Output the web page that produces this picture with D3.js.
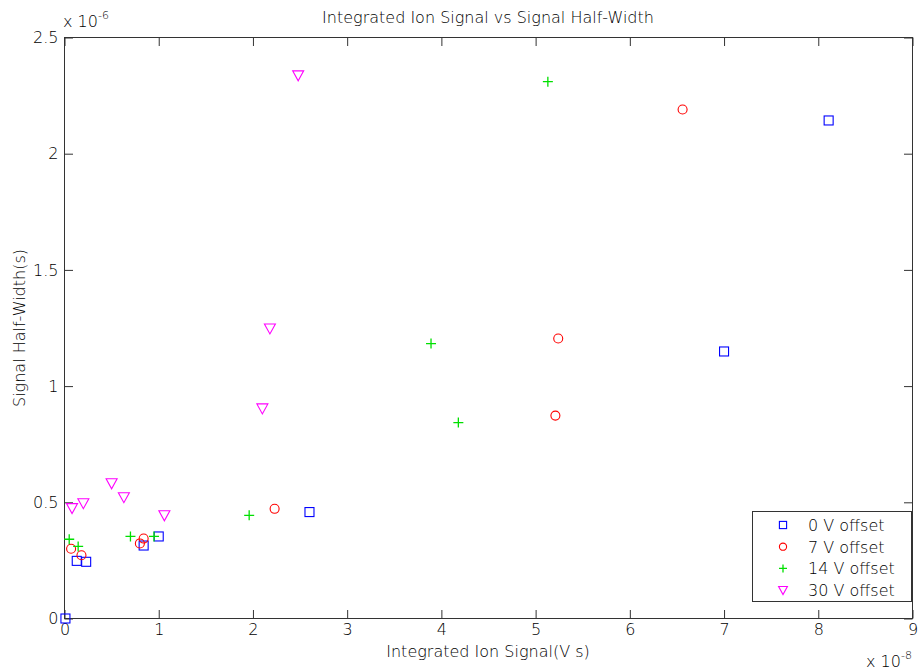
<!DOCTYPE html>
<html><head><meta charset="utf-8">
<script src="https://cdn.jsdelivr.net/npm/d3@7/dist/d3.min.js"></script>
<style>body{margin:0;background:#fff}svg{display:block}text{font-family:"DejaVu Sans",sans-serif;font-weight:200;fill:#000}</style>
</head><body><svg id="c" width="919" height="671"></svg>
<script>
// x in units of 1e-8 V s, y in units of 1e-6 s
const xTicks = [0,1,2,3,4,5,6,7,8,9];
const yTicks = [0,0.5,1,1.5,2,2.5];
const yTickLabels = ["0","0.5","1","1.5","2","2.5"];
const seriesNames = ["0 V offset","7 V offset","14 V offset","30 V offset"];
const s0x = [0.01,0.13,0.23,0.84,1.00,2.60,7.00,8.11];
const s0y = [0.00,0.248,0.244,0.314,0.353,0.458,1.149,2.143];
const s7x = [0.07,0.18,0.80,0.84,2.23,5.21,5.24,6.56];
const s7y = [0.300,0.272,0.323,0.344,0.472,0.873,1.205,2.190];
const s14x = [0.05,0.145,0.70,0.95,1.96,3.89,4.18,5.13];
const s14y = [0.341,0.310,0.353,0.353,0.444,1.183,0.843,2.310];
const s30x = [0.08,0.20,0.50,0.63,1.06,2.10,2.18,2.48];
const s30y = [0.475,0.496,0.582,0.522,0.444,0.904,1.248,2.337];

const svg = d3.select("#c");
const L=64.5, R=912.5, T=37.5, B=618.5;
const x = d3.scaleLinear().domain([0,9]).range([L,R]);
const y = d3.scaleLinear().domain([0,2.5]).range([B,T]);
const axisColor="#333", tl=8.5;

svg.append("rect").attr("x",L).attr("y",T).attr("width",R-L).attr("height",B-T)
  .attr("fill","none").attr("stroke",axisColor).attr("stroke-width",1);

const fs=16;
const gx = svg.append("g").attr("transform",`translate(0,${B})`)
  .call(d3.axisBottom(x).tickValues(xTicks).tickFormat(d3.format("d")).tickSizeInner(-tl).tickSizeOuter(0).tickPadding(5));
const gxt = svg.append("g").attr("transform",`translate(0,${T})`)
  .call(d3.axisTop(x).tickValues(xTicks).tickFormat("").tickSizeInner(-tl).tickSizeOuter(0));
const gy = svg.append("g").attr("transform",`translate(${L},0)`)
  .call(d3.axisLeft(y).tickValues(yTicks).tickFormat((d,i)=>yTickLabels[i]).tickSizeInner(-tl).tickSizeOuter(0).tickPadding(6));
const gyr = svg.append("g").attr("transform",`translate(${R},0)`)
  .call(d3.axisRight(y).tickValues(yTicks).tickFormat("").tickSizeInner(-tl).tickSizeOuter(0));
[gx,gxt,gy,gyr].forEach(g=>{
  g.select(".domain").remove();
  g.selectAll("line").attr("stroke",axisColor);
  g.selectAll("text").style("font-size",fs+"px").style("font-family","'DejaVu Sans',sans-serif").style("font-weight",200).attr("fill","#000");
});

const e1 = svg.append("text").attr("x",63).attr("y",27).style("font-size",fs+"px");
e1.append("tspan").text("x 10");
e1.append("tspan").attr("dy",-8).style("font-size","11px").text("-6");
const e2 = svg.append("text").attr("x",866).attr("y",667).style("font-size",fs+"px");
e2.append("tspan").text("x 10");
e2.append("tspan").attr("dy",-8).style("font-size","11px").text("-8");

svg.append("text").attr("x",488).attr("y",23).attr("text-anchor","middle").style("font-size",fs+"px")
  .text("Integrated Ion Signal vs Signal Half-Width");
svg.append("text").attr("x",488).attr("y",657).attr("text-anchor","middle").style("font-size",fs+"px")
  .text("Integrated Ion Signal(V s)");
svg.append("text").attr("transform",`translate(25,${(T+B)/2}) rotate(-90)`).attr("text-anchor","middle").style("font-size",fs+"px")
  .text("Signal Half-Width(s)");

const colors=["#0000ff","#ff0000","#00e000","#ff00ff"];
function marker(g,type,cx,cy,col,k){
  const sw=1.1;
  if(type===0) g.append("rect").attr("x",cx-4.5*k).attr("y",cy-4.5*k).attr("width",9*k).attr("height",9*k)
    .attr("fill","none").attr("stroke",col).attr("stroke-width",sw);
  else if(type===1) g.append("circle").attr("cx",cx).attr("cy",cy).attr("r",4.5*k)
    .attr("fill","none").attr("stroke",col).attr("stroke-width",sw);
  else if(type===2) g.append("path").attr("d",`M${cx-5*k},${cy}H${cx+5*k}M${cx},${cy-5*k}V${cy+5*k}`)
    .attr("stroke",col).attr("stroke-width",sw+0.2);
  else g.append("path").attr("d",`M${cx-5.5*k},${cy-4.5*k}L${cx+5.5*k},${cy-4.5*k}L${cx},${cy+5.5*k}Z`)
    .attr("fill","none").attr("stroke",col).attr("stroke-width",sw);
}
const series=[[s0x,s0y],[s7x,s7y],[s14x,s14y],[s30x,s30y]];
const plot=svg.append("g");
series.forEach((s,i)=>{
  s[0].forEach((xv,j)=>marker(plot,i,x(xv),y(s[1][j]),colors[i],1));
});

const lg=svg.append("g");
lg.append("rect").attr("x",752.5).attr("y",511.5).attr("width",159).attr("height",90)
  .attr("fill","#fff").attr("stroke",axisColor).attr("stroke-width",1);
seriesNames.forEach((n,i)=>{
  const cy=525+i*21.7;
  marker(lg,i,783,cy,colors[i],0.8);
  lg.append("text").attr("x",808).attr("y",cy+6).style("font-size",fs+"px").text(n);
});
</script></body></html>
